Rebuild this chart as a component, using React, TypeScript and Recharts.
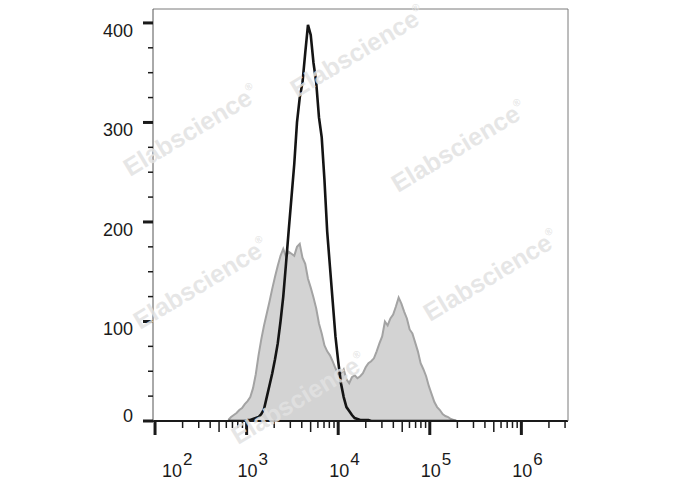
import { ComposedChart, Area, Line, XAxis, YAxis } from "recharts";

// histogram channel positions (log10 of fluorescence)
const bins = [
  2.8, 2.83, 2.86, 2.89, 2.92, 2.95, 2.98, 3.01, 3.04, 3.07,
  3.1, 3.13, 3.16, 3.19, 3.22, 3.25, 3.28, 3.31, 3.34, 3.37,
  3.4, 3.43, 3.46, 3.49, 3.52, 3.55, 3.58, 3.61, 3.64, 3.67,
  3.7, 3.73, 3.76, 3.79, 3.82, 3.85, 3.88, 3.91, 3.94, 3.97,
  4.0, 4.03, 4.06, 4.09, 4.12, 4.15, 4.18, 4.21, 4.24, 4.27,
  4.3, 4.33, 4.36, 4.39, 4.42, 4.45, 4.48, 4.51, 4.54, 4.57,
  4.6, 4.63, 4.66, 4.69, 4.72, 4.75, 4.78, 4.81, 4.84, 4.87,
  4.9, 4.93, 4.96, 4.99, 5.02, 5.05, 5.08, 5.11, 5.14, 5.17,
  5.2, 5.23, 5.26, 5.29,
];

// filled grey histogram (control)
const grayCounts = [
  1, 4, 6, 8, 11, 13, 17, 20, 24, 33,
  47, 66, 82, 96, 108, 120, 133, 145, 156, 166,
  173, 165, 170, 168, 166, 175, 178, 164, 158, 143,
  134, 124, 113, 98, 88, 76, 70, 66, 60, 53,
  47, 48, 52, 42, 38, 44, 46, 43, 45, 48,
  54, 58, 60, 63, 70, 78, 85, 100, 96, 103,
  107, 115, 124, 118, 110, 103, 92, 88, 79, 70,
  58, 52, 45, 35, 27, 19, 14, 11, 7, 5,
  4, 2, 1, 0,
];

// black outline histogram (stained)
const blackCounts = [
  0, 0, 0, 0, 0, 0, 0, 1, 1, 2,
  3, 4, 7, 12, 24, 36, 48, 62, 78, 100,
  125, 158, 192, 225, 258, 300, 325, 340, 370, 398,
  388, 360, 340, 305, 285, 242, 190, 155, 120, 85,
  60, 38, 24, 14, 10, 6, 3, 2, 1, 1,
  1, 1, 0, 0, 0, 0, 0, 0, 0, 0,
  0, 0, 0, 0, 0, 0, 0, 0, 0, 0,
  0, 0, 0, 0, 0, 0, 0, 0, 0, 0,
  0, 0, 0, 0,
];

const xDecades = [100, 1000, 10000, 100000, 1000000];
const xExponents = ["2", "3", "4", "5", "6"];
const yMajor = [0, 100, 200, 300, 400];
const yMinor = [25, 50, 75, 125, 150, 175, 225, 250, 275, 325, 350, 375];

const X_MIN = 95;
const X_MAX = 3230000;

const data = bins.map((e, i) => ({
  x: Math.pow(10, e),
  gray: grayCounts[i],
  black: blackCounts[i],
}));

const xTicks: number[] = [];
xDecades.forEach((d) => {
  for (let k = 1; k <= 9; k++) {
    if (d * k <= X_MAX) xTicks.push(d * k);
  }
});
const yTicks = [...yMajor, ...yMinor].sort((a, b) => a - b);

const FONT = "'Liberation Sans', Arial, sans-serif";

function XTick({ x, y, payload }: any) {
  const v = payload.value;
  const idx = xDecades.indexOf(v);
  const mant = Math.round(v / Math.pow(10, Math.floor(Math.log10(v) + 1e-9)));
  const len = idx >= 0 ? 14 : mant === 5 ? 11 : 7;
  // first label sits a bit right of its tick in the original
  const cx = x + (idx === 0 ? 17 : 1);
  return (
    <g>
      <line x1={x} x2={x} y1={y} y2={y + len} stroke="#1a1a1a" strokeWidth={idx >= 0 ? 3 : 1.5} />
      {idx >= 0 && (
        <>
          <text x={cx} y={y + 56} textAnchor="middle" fontSize={18} fill="#1a1a1a" fontFamily={FONT}>
            10
          </text>
          <text x={cx + 11} y={y + 44} textAnchor="start" fontSize={17} fill="#1a1a1a" fontFamily={FONT}>
            {xExponents[idx]}
          </text>
        </>
      )}
    </g>
  );
}

function YTick({ x, y, payload }: any) {
  const v = payload.value;
  const major = yMajor.includes(v);
  return (
    <g>
      <line x1={x - (major ? 10 : 5)} x2={x} y1={y} y2={y} stroke="#1a1a1a" strokeWidth={major ? 3 : 1.5} />
      {major && (
        <text x={x - 20} y={v === 0 ? y + 1 : y + 14} textAnchor="end" fontSize={18} fill="#1a1a1a" fontFamily={FONT}>
          {v}
        </text>
      )}
    </g>
  );
}

const marks = [
  { x: 297, y: 98 },
  { x: 130, y: 177 },
  { x: 398, y: 193 },
  { x: 140, y: 330 },
  { x: 430, y: 322 },
  { x: 238, y: 445 },
];

export default function App() {
  return (
    <div style={{ position: "absolute", left: 0, top: 0, width: 688, height: 490, background: "#fff" }}>
      <ComposedChart width={688} height={490} data={data} margin={{ top: 0, right: 100, bottom: 0, left: 93 }}>
        <XAxis
          dataKey="x"
          type="number"
          scale="log"
          domain={[X_MIN, X_MAX]}
          allowDataOverflow
          ticks={xTicks}
          interval={0}
          height={69}
          tickSize={0}
          tickMargin={0}
          tickLine={false}
          tick={<XTick />}
          axisLine={{ stroke: "#1a1a1a", strokeWidth: 2 }}
        />
        <XAxis
          xAxisId="top"
          orientation="top"
          dataKey="x"
          type="number"
          scale="log"
          domain={[X_MIN, X_MAX]}
          allowDataOverflow
          height={9}
          tick={false}
          tickLine={false}
          axisLine={{ stroke: "#7a7a7a", strokeWidth: 1 }}
        />
        <YAxis
          type="number"
          domain={[0, 414]}
          allowDataOverflow
          ticks={yTicks}
          interval={0}
          width={60}
          tickSize={0}
          tickMargin={0}
          tickLine={false}
          tick={<YTick />}
          axisLine={{ stroke: "#555", strokeWidth: 1 }}
        />
        <YAxis
          yAxisId="right"
          orientation="right"
          type="number"
          domain={[0, 414]}
          width={20}
          tick={false}
          tickLine={false}
          axisLine={{ stroke: "#7a7a7a", strokeWidth: 1 }}
        />
        <Area
          type="linear"
          dataKey="gray"
          fill="#d3d3d3"
          fillOpacity={1}
          stroke="#a3a3a3"
          strokeWidth={2}
          dot={false}
          activeDot={false}
          isAnimationActive={false}
        />
        <Line
          type="linear"
          dataKey="black"
          stroke="#141414"
          strokeWidth={2.6}
          dot={false}
          activeDot={false}
          isAnimationActive={false}
        />
      </ComposedChart>
      <svg width={688} height={490} style={{ position: "absolute", left: 0, top: 0, pointerEvents: "none" }}>
        {marks.map((m, i) => (
          <text
            key={i}
            x={m.x}
            y={m.y}
            transform={`rotate(-31 ${m.x} ${m.y})`}
            fontSize={25}
            fontWeight="bold"
            fontFamily={FONT}
            fill="#e2e2e2"
            fillOpacity={0.85}
          >
            Elabscience
            <tspan fontSize={10} dy={-13}>®</tspan>
          </text>
        ))}
      </svg>
    </div>
  );
}
